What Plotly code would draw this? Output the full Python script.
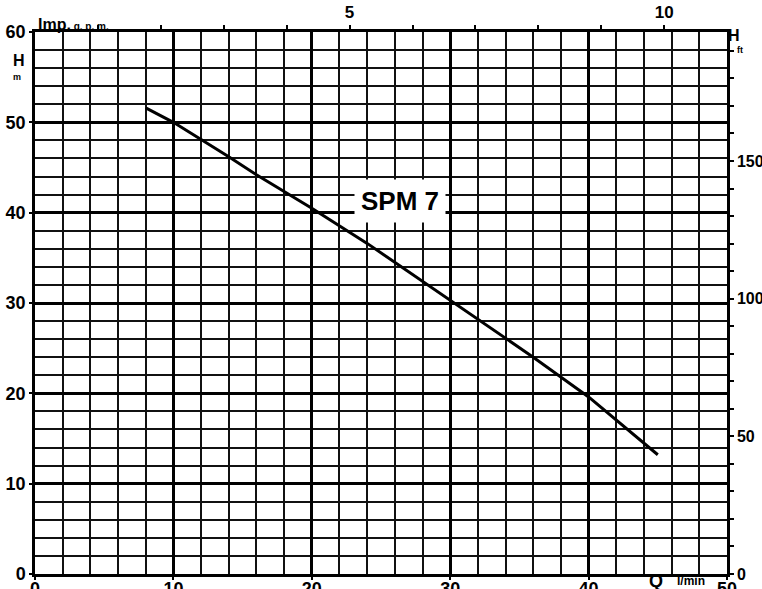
import plotly.graph_objects as go

# Pump curve SPM 7
q_lmin = [8, 10, 12, 14, 16, 20, 24, 30, 34, 36, 40, 44, 45]
h_m = [51.6, 50.0, 48.1, 46.2, 44.2, 40.5, 36.6, 30.3, 26.2, 24.0, 19.6, 14.4, 13.2]

x_ticks = [0, 10, 20, 30, 40, 50]
y_ticks = [0, 10, 20, 30, 40, 50, 60]
ft_ticks = list(range(0, 200, 10))
ft_labels = [str(v) if v % 50 == 0 else "" for v in ft_ticks]
gpm_ticks = list(range(1, 11))
gpm_labels = [str(v) if v in (5, 10) else "" for v in gpm_ticks]

M_TO_FT = 3.28084
LMIN_PER_GPM = 4.54609
X_MAX = 50
Y_MAX = 60

FONT = "Liberation Sans"
tickfont = dict(family=FONT, size=18, color="black", weight="bold")

fig = go.Figure()
fig.add_trace(go.Scatter(x=q_lmin, y=h_m, mode="lines",
                         line=dict(color="black", width=3), showlegend=False,
                         hoverinfo="skip"))
# invisible helpers to activate secondary axes
fig.add_trace(go.Scatter(x=[0, X_MAX / LMIN_PER_GPM], y=[0, Y_MAX], xaxis="x2", yaxis="y",
                         mode="markers", marker=dict(opacity=0), showlegend=False, hoverinfo="skip"))
fig.add_trace(go.Scatter(x=[0, X_MAX], y=[0, Y_MAX * M_TO_FT], xaxis="x", yaxis="y2",
                         mode="markers", marker=dict(opacity=0), showlegend=False, hoverinfo="skip"))

fig.update_layout(
    width=762, height=589,
    margin=dict(l=35, r=35, t=32, b=15),
    paper_bgcolor="white", plot_bgcolor="white",
    xaxis=dict(range=[0, X_MAX], tickvals=x_ticks, ticktext=[str(v) for v in x_ticks],
               showgrid=True, gridcolor="black", gridwidth=2.5,
               minor=dict(dtick=2, showgrid=True, gridcolor="#111", gridwidth=1.5),
               showline=True, linecolor="black", linewidth=2.5, mirror=False,
               ticks="outside", ticklen=3, tickwidth=2, tickcolor="black",
               ticklabelstandoff=-6,
               tickfont=tickfont, zeroline=False, automargin=False),
    yaxis=dict(range=[0, Y_MAX], tickvals=y_ticks, ticktext=[str(v) for v in y_ticks],
               showgrid=True, gridcolor="black", gridwidth=2.5,
               minor=dict(dtick=2, showgrid=True, gridcolor="#111", gridwidth=1.5),
               showline=True, linecolor="black", linewidth=2.5,
               ticks="outside", ticklen=3, tickwidth=2, tickcolor="black", ticklabelstandoff=0,
               tickfont=tickfont, zeroline=False, automargin=False),
    xaxis2=dict(range=[0, X_MAX / LMIN_PER_GPM], overlaying="x", side="top", anchor="y",
                tickvals=gpm_ticks, ticktext=gpm_labels, showgrid=False,
                showline=True, linecolor="black", linewidth=2.5,
                ticks="outside", ticklen=4, tickwidth=1.5, tickcolor="black",
                ticklabelstandoff=0,
                tickfont=dict(family=FONT, size=17, color="black", weight="bold"),
                zeroline=False, automargin=False),
    yaxis2=dict(range=[0, Y_MAX * M_TO_FT], overlaying="y", side="right", anchor="x",
                tickvals=ft_ticks, ticktext=ft_labels, showgrid=False,
                showline=True, linecolor="black", linewidth=2.5,
                ticks="outside", ticklen=4, tickwidth=1.5, tickcolor="black",
                ticklabelstandoff=0,
                tickfont=dict(family=FONT, size=16, color="black", weight="bold"),
                zeroline=False, automargin=False),
)

ann = []
ann.append(dict(x=26.4, y=41.3, xref="x", yref="y", text="<b>SPM 7</b>", showarrow=False,
                font=dict(family=FONT, size=26, color="black"), bgcolor="white",
                borderpad=6))
ann.append(dict(x=0.002, y=1.0, xref="paper", yref="paper", xanchor="left", yanchor="bottom",
                text="<b>Imp.</b><span style='font-size:10px'><b> g. p. m.</b></span>",
                showarrow=False, font=dict(family=FONT, size=16, color="black"), yshift=-3))
ann.append(dict(x=-0.0347, y=0.966, xref="paper", yref="paper", text="<b>H</b>", showarrow=False,
                font=dict(family=FONT, size=16, color="black")))
ann.append(dict(x=-0.0347, y=0.929, xref="paper", yref="paper", text="<b>m</b>", showarrow=False,
                font=dict(family=FONT, size=9, color="black")))
ann.append(dict(x=1.0217, y=1.012, xref="paper", yref="paper", text="<b>H</b>", showarrow=False,
                font=dict(family=FONT, size=16, color="black")))
ann.append(dict(x=1.026, y=0.979, xref="paper", yref="paper", text="<b>ft</b>", showarrow=False,
                font=dict(family=FONT, size=9, color="black")))
ann.append(dict(x=44.9, y=0, xref="x", yref="paper", yanchor="middle", text="<b>Q</b>", showarrow=False,
                font=dict(family=FONT, size=18, color="black"), yshift=-7))
ann.append(dict(x=47.4, y=0, xref="x", yref="paper", yanchor="middle", text="<b>l/min</b>", showarrow=False,
                font=dict(family=FONT, size=12, color="black"), yshift=-7))
fig.update_layout(annotations=ann)

fig.write_html("out.html", config={"displayModeBar": False},
               post_script="document.body.style.margin='0';document.body.style.overflow='hidden';")
